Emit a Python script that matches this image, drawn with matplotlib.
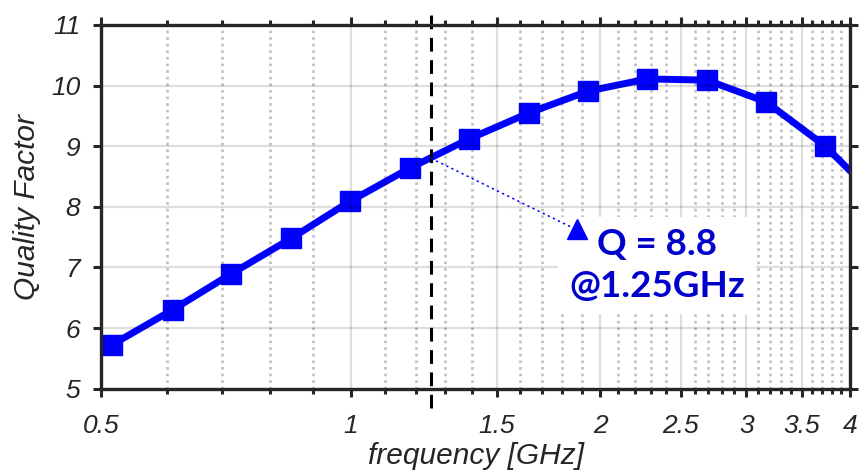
import numpy as np
import matplotlib
matplotlib.use("Agg")
import matplotlib.pyplot as plt
from matplotlib.ticker import FixedLocator, FixedFormatter, NullFormatter

# ---- data ----
freq_ghz = [0.437, 0.515, 0.610, 0.717, 0.848, 0.998, 1.179, 1.389, 1.641,
            1.934, 2.279, 2.690, 3.170, 3.735, 4.40]
quality = [5.45, 5.72, 6.30, 6.89, 7.48, 8.09, 8.64, 9.12, 9.55,
           9.91, 10.11, 10.09, 9.73, 9.00, 8.03]
marker_freq = freq_ghz[1:-1]
marker_q = quality[1:-1]

xlim = [0.5, 4]
ylim = [5, 11]
x_major = [0.5, 1, 1.5, 2, 2.5, 3, 3.5, 4]
x_major_labels = ["0.5", "1", "1.5", "2", "2.5", "3", "3.5", "4"]
x_minor = [0.6, 0.7, 0.8, 0.9, 1.1, 1.2, 1.3, 1.4, 1.6, 1.7, 1.8, 1.9,
           2.1, 2.2, 2.3, 2.4, 2.6, 2.7, 2.8, 2.9, 3.1, 3.2, 3.3, 3.4,
           3.6, 3.7, 3.8, 3.9]
y_ticks = [5, 6, 7, 8, 9, 10, 11]

marker_f = 1.25
marker_value = 8.8
arrow_end = (1.876, 7.63)
text_pos = (2.343, 7.03)
annot_text = "Q = 8.8\n@1.25GHz"
dash_extent = [4.68, 11.28]

plt.rcParams["font.family"] = "Liberation Sans"
plt.rcParams["font.style"] = "italic"

# ---- figure ----
fig = plt.figure(figsize=(8.61, 4.76), dpi=100)
ax = fig.add_axes([101/861, 1-388.6/476, (850-101)/861, (388.6-25)/476])

ax.set_xscale("log")
ax.set_xlim(xlim)
ax.set_ylim(ylim)

axis_color = "#262626"

# grids (drawn above data like MATLAB layer top)
for xv in x_major[1:-1]:
    ax.axvline(xv, color="k", alpha=0.13, lw=1.6, zorder=4)
for yv in y_ticks[1:-1]:
    ax.axhline(yv, color="k", alpha=0.13, lw=1.6, zorder=4)
for xv in x_minor:
    ax.axvline(xv, color="k", alpha=0.25, lw=1.9, ls=(0, (1, 1.5)), zorder=4)

# data line
ax.plot(freq_ghz, quality, color="#0000FF", lw=5, zorder=3, solid_capstyle="butt")
ax.plot(marker_freq, marker_q, ls="none", marker="s", ms=15,
        color="#0000FF", mec="#0000FF", zorder=3)

# dashed vertical line at 1.25 GHz
ax.plot([marker_f, marker_f], dash_extent, color="k", lw=2.2,
        ls=(0, (4.5, 2.8)), clip_on=False, zorder=6)

ax.text(text_pos[0], text_pos[1], annot_text, ha="center", va="center",
        fontsize=26.5, fontweight="bold", family="Lato", style="normal",
        color="#0000CC", linespacing=1.32, zorder=8,
        bbox=dict(facecolor="white", edgecolor="none", pad=8))

# annotation arrow (dotted line + triangle head)
ax.plot([marker_f, arrow_end[0] * 0.985], [marker_value, arrow_end[1] + 0.03],
        color="#0000FF", lw=1.1, ls=(0, (1.5, 2.2)), zorder=9)
ax.plot([arrow_end[0]], [arrow_end[1]], marker="^", ms=14, color="#0000FF",
        ls="none", zorder=9)

# ticks
ax.xaxis.set_major_locator(FixedLocator(x_major))
ax.xaxis.set_major_formatter(FixedFormatter(x_major_labels))
ax.xaxis.set_minor_locator(FixedLocator(x_minor))
ax.xaxis.set_minor_formatter(NullFormatter())
ax.yaxis.set_major_locator(FixedLocator(y_ticks))
ax.yaxis.set_major_formatter(FixedFormatter([str(v) for v in y_ticks]))

ax.tick_params(which="both", direction="out", top=True, right=True,
               color=axis_color, width=2.2, labelcolor=axis_color,
               labelsize=19)
ax.tick_params(which="major", length=6)
ax.tick_params(which="minor", length=3.5)
ax.tick_params(axis="x", which="major", pad=12.5)
ax.tick_params(axis="y", which="major", pad=9)

for sp in ax.spines.values():
    sp.set_color(axis_color)
    sp.set_linewidth(2.4)
    sp.set_zorder(9)

ax.set_xlabel("frequency [GHz]", fontsize=21.5, color=axis_color, labelpad=3)
ax.set_ylabel("Quality Factor", fontsize=21.5, color=axis_color, labelpad=7)

fig.savefig("out.png", dpi=100)
